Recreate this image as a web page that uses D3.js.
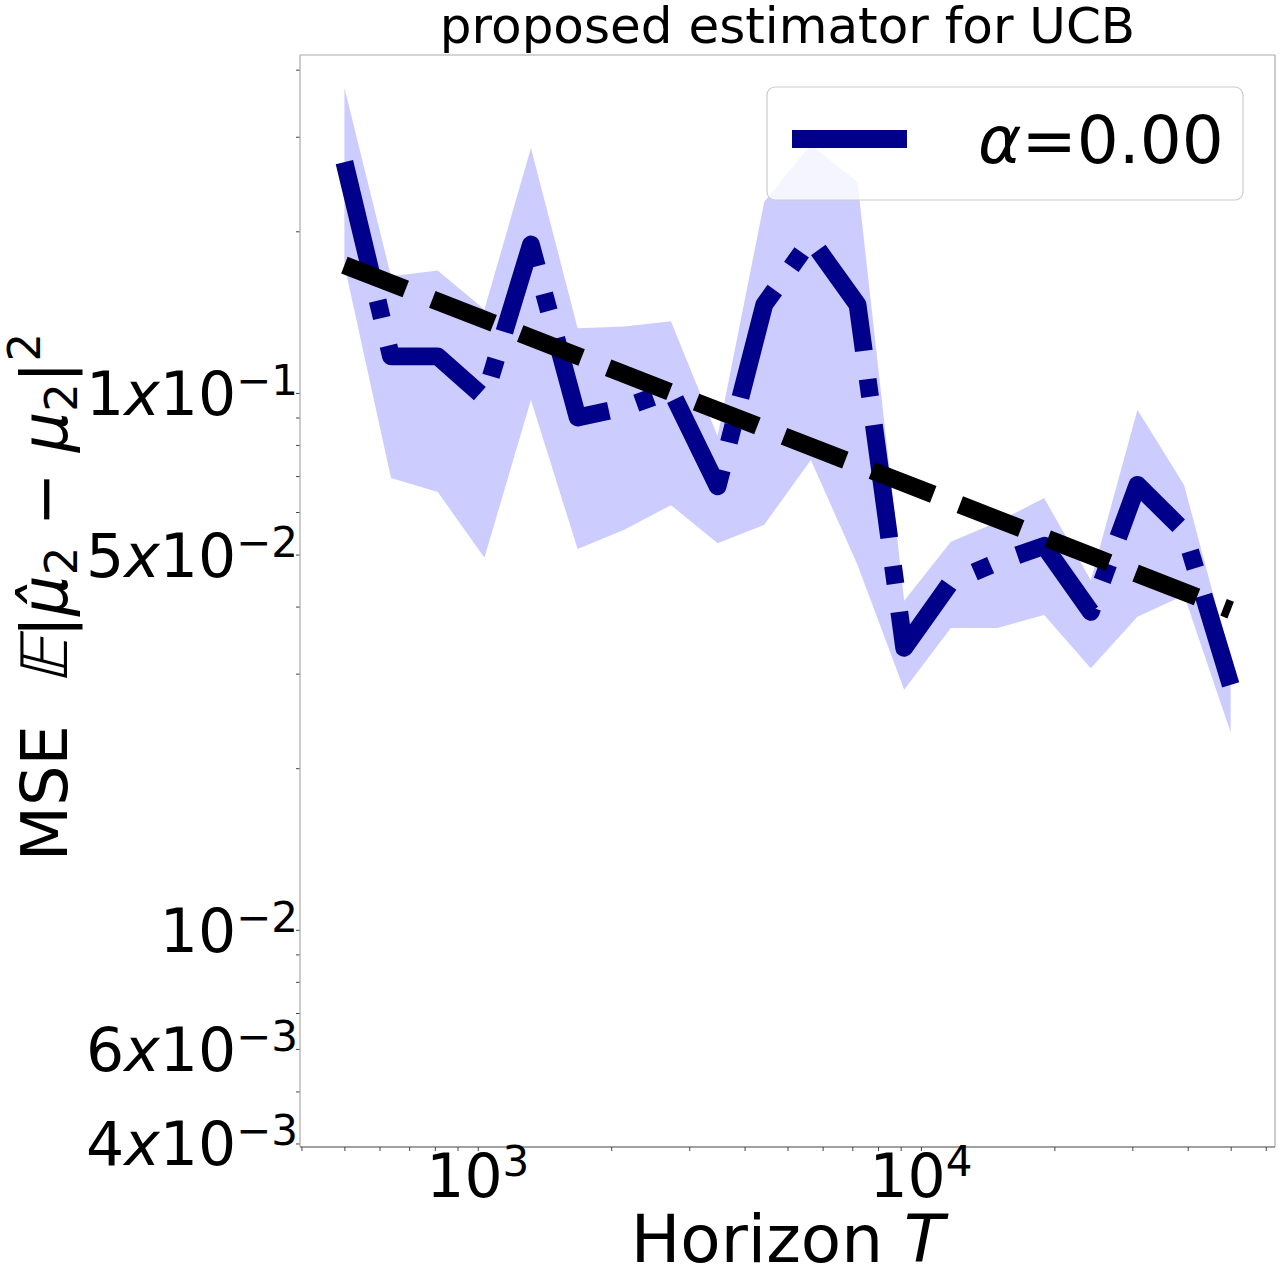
<!DOCTYPE html>
<html>
<head>
<meta charset="utf-8">
<script src="https://cdn.jsdelivr.net/npm/d3@7"></script>
<style>
  body { margin: 0; background: #fff; }
  svg text { font-family: "DejaVu Sans", sans-serif; fill: #000; white-space: pre; }
</style>
</head>
<body>
<div id="chart"></div>
<script>
// horizons T (log spaced), estimated MSE and band
var horizons = [500, 637, 812, 1035, 1318, 1680, 2141, 2728, 3477, 4430, 5644, 7194, 9166, 11681, 14885, 18968, 24171, 30802, 39253, 50000];
var mse = [0.269, 0.117, 0.117, 0.098, 0.189, 0.090, 0.094, 0.101, 0.067, 0.146, 0.193, 0.146, 0.0335, 0.0444, 0.0484, 0.0519, 0.0391, 0.0674, 0.0553, 0.0286];
var mseUpper = [0.370, 0.165, 0.169, 0.143, 0.286, 0.132, 0.133, 0.136, 0.083, 0.227, 0.290, 0.247, 0.041, 0.0528, 0.0575, 0.0637, 0.0448, 0.093, 0.0674, 0.0318];
var mseLower = [0.173, 0.0694, 0.0654, 0.0493, 0.097, 0.0512, 0.0556, 0.0618, 0.0525, 0.0568, 0.075, 0.0478, 0.028, 0.0365, 0.0365, 0.0386, 0.0307, 0.0383, 0.042, 0.0233];

// reference slope line (black dashes)
var refHorizons = [500, 50000];
var refMse = [0.173, 0.0394];

var xTickVals = [1000, 10000];
var xTickExp = ["3", "4"];
var yTickVals = [0.1, 0.05, 0.01, 0.006, 0.004];
var yTickMant = ["1", "5", "", "6", "4"];
var yTickExp = ["\u22121", "\u22122", "\u22122", "\u22123", "\u22123"];
var legendValue = "=0.00";

var width = 1280, height = 1280;
var plotL = 300, plotR = 1275, plotT = 55, plotB = 1147;
var lw = 17.8;

var svg = d3.select("#chart")
  .append("svg")
    .attr("width", width)
    .attr("height", height);

var x = d3.scaleLog().domain([397, 62950]).range([plotL, plotR]);
var y = d3.scaleLog().domain([0.00394, 0.426]).range([plotB, plotT]);

svg.append("clipPath").attr("id", "plotclip")
  .append("rect")
    .attr("x", plotL).attr("y", plotT)
    .attr("width", plotR - plotL).attr("height", plotB - plotT);

var pts = horizons.map(function(t, i) {
  return {t: t, m: mse[i], hi: mseUpper[i], lo: mseLower[i]};
});
var refPts = refHorizons.map(function(t, i) { return {t: t, m: refMse[i]}; });

var plot = svg.append("g").attr("clip-path", "url(#plotclip)");

var area = d3.area()
  .x(function(d) { return x(d.t); })
  .y0(function(d) { return y(d.lo); })
  .y1(function(d) { return y(d.hi); });

plot.append("path")
  .datum(pts)
  .attr("d", area)
  .attr("fill", "blue")
  .attr("fill-opacity", 0.2);

var line = d3.line()
  .x(function(d) { return x(d.t); })
  .y(function(d) { return y(d.m); });

// dash-dot like matplotlib '-.'
plot.append("path")
  .datum(pts)
  .attr("d", line)
  .attr("fill", "none")
  .attr("stroke", "#00008b")
  .attr("stroke-width", lw)
  .attr("stroke-linejoin", "round")
  .attr("stroke-linecap", "butt")
  .attr("stroke-dasharray", [6.4 * lw, 1.6 * lw, 1.0 * lw, 1.6 * lw].join(","));

// dashed like matplotlib '--'
plot.append("path")
  .datum(refPts)
  .attr("d", line)
  .attr("fill", "none")
  .attr("stroke", "#000")
  .attr("stroke-width", lw)
  .attr("stroke-linecap", "butt")
  .attr("stroke-dasharray", [3.7 * lw, 1.6 * lw].join(","));

// tick marks (all small, like minor ticks)
var xAxis = svg.append("g")
  .attr("transform", "translate(0," + plotB + ")")
  .call(d3.axisBottom(x).tickValues(x.ticks()).tickSize(4).tickSizeOuter(0).tickFormat(""));
xAxis.select(".domain").remove();
xAxis.selectAll(".tick line").attr("stroke", "#444").attr("stroke-width", 1);

var yAxis = svg.append("g")
  .attr("transform", "translate(" + plotL + ",0)")
  .call(d3.axisLeft(y).tickValues(y.ticks()).tickSize(4).tickSizeOuter(0).tickFormat(""));
yAxis.select(".domain").remove();
yAxis.selectAll(".tick line").attr("stroke", "#444").attr("stroke-width", 1);

// spines
svg.append("line").attr("x1", plotL).attr("x2", plotL).attr("y1", plotT).attr("y2", plotB)
  .attr("stroke", "#aaa").attr("stroke-width", 1.2);
svg.append("line").attr("x1", plotR).attr("x2", plotR).attr("y1", plotT).attr("y2", plotB)
  .attr("stroke", "#aaa").attr("stroke-width", 1.2);
svg.append("line").attr("x1", plotL).attr("x2", plotR).attr("y1", plotT).attr("y2", plotT)
  .attr("stroke", "#aaa").attr("stroke-width", 1.2);
svg.append("line").attr("x1", plotL).attr("x2", plotR).attr("y1", plotB).attr("y2", plotB)
  .attr("stroke", "#444").attr("stroke-width", 1.2);

// x tick labels 10^k
var xl = svg.selectAll(".xlab")
  .data(xTickVals)
  .enter()
  .append("text")
    .attr("class", "xlab")
    .attr("x", function(d) { return x(d); })
    .attr("y", 1197)
    .attr("text-anchor", "middle")
    .style("font-size", "60px");
xl.append("tspan").text("10");
xl.append("tspan").attr("dy", -21).style("font-size", "42px").text(function(d, i) { return xTickExp[i]; });

// y tick labels  m x 10^e
var yl = svg.selectAll(".ylab")
  .data(yTickVals)
  .enter()
  .append("text")
    .attr("class", "ylab")
    .attr("x", 298)
    .attr("y", function(d) { return y(d) + 22; })
    .attr("text-anchor", "end")
    .style("font-size", "60px");
yl.append("tspan").text(function(d, i) { return yTickMant[i]; });
yl.append("tspan").style("font-style", "italic").text(function(d, i) { return yTickMant[i] ? "x" : ""; });
yl.append("tspan").text("10");
yl.append("tspan").attr("dy", -20).style("font-size", "42px").text(function(d, i) { return yTickExp[i]; });

// axis labels and title
var xlabel = svg.append("text")
  .attr("x", (plotL + plotR) / 2)
  .attr("y", 1262)
  .attr("text-anchor", "middle")
  .style("font-size", "66px");
xlabel.append("tspan").text("Horizon ");
xlabel.append("tspan").style("font-style", "italic").text("T");

var ylabG = svg.append("g")
  .attr("transform", "translate(67," + ((plotT + plotB) / 2 - 4) + ") rotate(-90)");
var ylabel = ylabG.append("text")
  .attr("text-anchor", "middle")
  .style("font-size", "64px");
ylabel.append("tspan").text("MSE  ");
ylabel.append("tspan").attr("fill-opacity", 0).text("\uD835\uDD3C");
ylabel.append("tspan").text("|");
ylabel.append("tspan").style("font-style", "italic").text("\u03BC\u0302");
ylabel.append("tspan").attr("dy", 10).style("font-size", "45px").text("2");
ylabel.append("tspan").attr("dy", -10).text(" \u2212 ");
ylabel.append("tspan").style("font-style", "italic").text("\u03BC");
ylabel.append("tspan").attr("dy", 10).style("font-size", "45px").text("2");
ylabel.append("tspan").attr("dy", -10).text("|");
ylabel.append("tspan").attr("dy", -27).style("font-size", "45px").text("2");

// slanted double-struck E placed over its slot
var ePos = ylabel.node().getStartPositionOfChar(5);
ylabG.append("text")
  .attr("transform", "translate(" + ePos.x + "," + ePos.y + ") skewX(-14)")
  .style("font-size", "64px")
  .text("\uD835\uDD3C");

svg.append("text")
  .attr("x", (plotL + plotR) / 2)
  .attr("y", 43)
  .attr("text-anchor", "middle")
  .style("font-size", "50px")
  .text("proposed estimator for UCB");

// legend
var legend = svg.append("g");
legend.append("rect")
  .attr("x", 767).attr("y", 87)
  .attr("width", 476).attr("height", 113)
  .attr("rx", 8)
  .attr("fill", "#fff").attr("fill-opacity", 0.8)
  .attr("stroke", "#ccc").attr("stroke-width", 1.2);
legend.append("line")
  .attr("x1", 792).attr("x2", 907)
  .attr("y1", 139).attr("y2", 139)
  .attr("stroke", "#00008b").attr("stroke-width", lw);
var legText = legend.append("text")
  .attr("x", 978).attr("y", 163)
  .style("font-size", "66px");
legText.append("tspan").style("font-style", "italic").text("\u03B1");
legText.append("tspan").text(legendValue);
</script>
</body>
</html>
